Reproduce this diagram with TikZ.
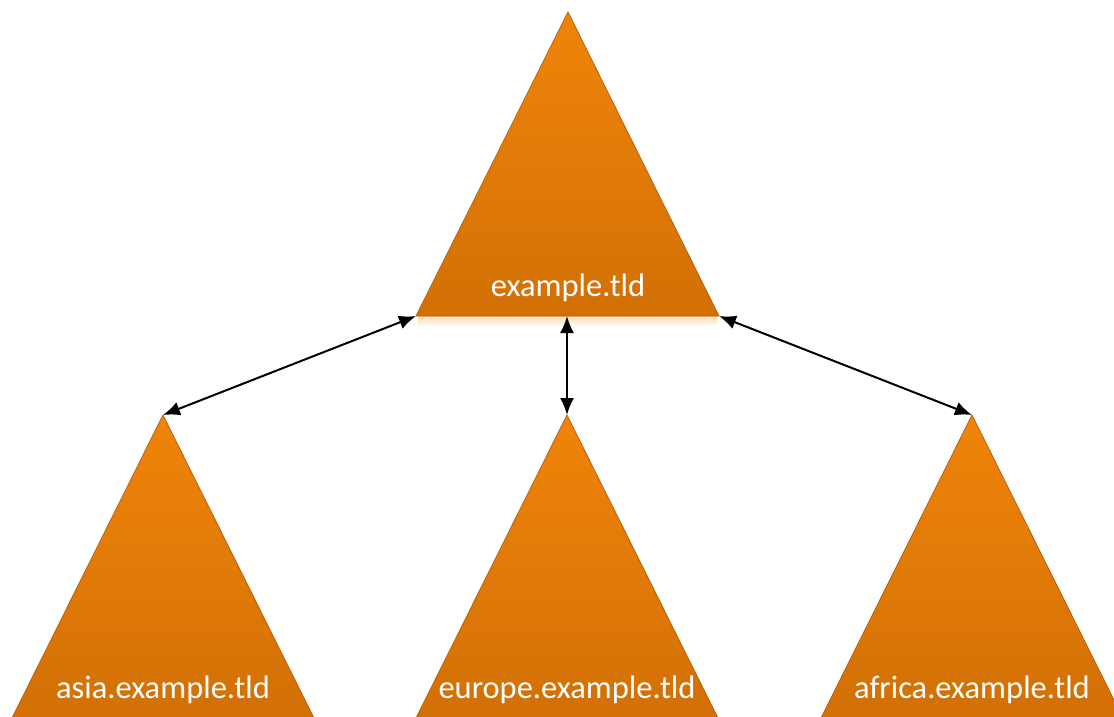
\documentclass[tikz,border=0pt]{standalone}
\usepackage{fontspec}
\setmainfont{Carlito}
\usetikzlibrary{arrows.meta}
\definecolor{domtop}{HTML}{F08409}
\definecolor{dombot}{HTML}{D27006}
\definecolor{domline}{HTML}{B5630A}

\begin{document}
\begin{tikzpicture}[x=1pt,y=-1pt,
    domtri/.style={draw=domline, line width=0.8pt, top color=domtop, middle color=dombot, bottom color=dombot},
    dname/.style={text=white, font=\fontsize{32.5}{38}\selectfont, inner sep=0pt},
    link/.style={{Latex[length=17pt,width=14pt]}-{Latex[length=17pt,width=14pt]}, line width=2pt}]
    \useasboundingbox (0,0) rectangle (1114,716);
    \clip (0,0) rectangle (1114,716);

    % soft glow under the top triangle
    \shade[top color=domtop!30, bottom color=white] (418,316) rectangle (717,327);

    % top domain
    \coordinate (root) at (568,12);
    \coordinate (rootL) at (416,316);
    \coordinate (rootR) at (719,316);
    \coordinate (rootB) at (567,316);
    \path[domtri] (root) -- (rootR) -- (rootL) -- cycle;
    \node[dname] (rootname) at (568,288) {example.tld};

    % sub domains
    \foreach \n/\x/\t in {asia/163/asia.example.tld, europe/567/europe.example.tld, africa/972/africa.example.tld}{
        \coordinate (\n) at (\x,415);
        \path[domtri] (\n) -- ++(151.5,304) -- ++(-303,0) -- cycle;
        \node[dname] (\n name) at (\x,690) {\t};
    }

    \draw[link] (rootL) -- (asia);
    \draw[link] (rootB) -- (europe);
    \draw[link] (rootR) -- (africa);
\end{tikzpicture}
\end{document}
